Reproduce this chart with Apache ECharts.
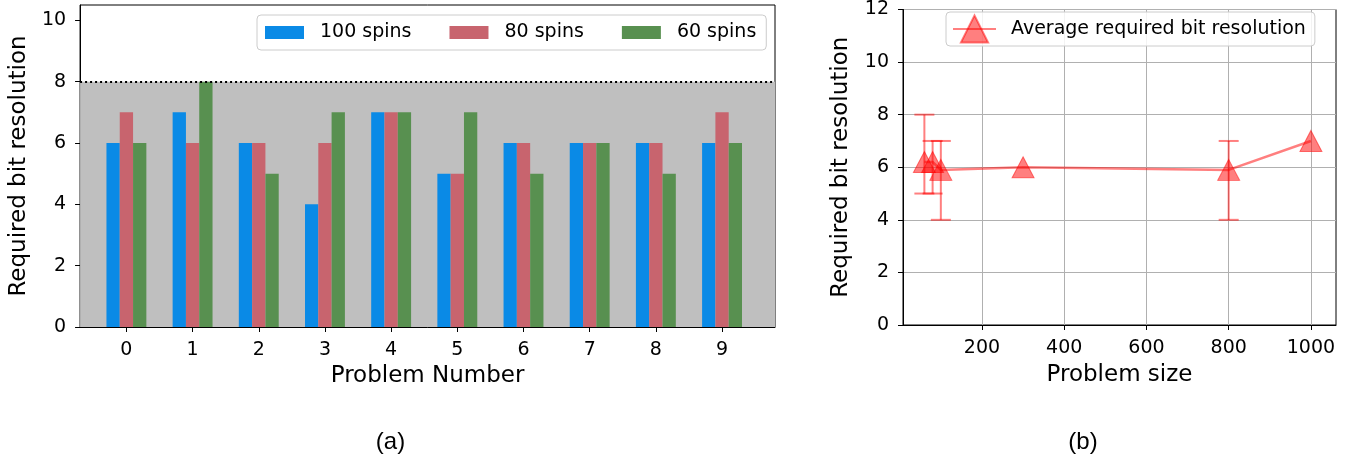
<!DOCTYPE html>
<html>
<head>
<meta charset="utf-8">
<script src="https://cdn.jsdelivr.net/npm/echarts@6/dist/echarts.min.js"></script>
<style>
html,body{margin:0;padding:0;background:#fff;}
#c{width:1361px;height:461px;}
</style>
</head>
<body>
<div id="c"></div>
<script>
// ---- Data (a) ----
var problems = [0,1,2,3,4,5,6,7,8,9];
var spins100 = [6,7,6,4,7,5,6,6,6,6];
var spins80  = [7,6,6,6,7,5,6,6,6,7];
var spins60  = [6,8,5,7,7,7,5,6,5,6];
var limitBits = 8;
var yTicksA = [0,2,4,6,8,10];

// ---- Data (b) ----
var problemSize = [60,80,100,300,800,1000];
var avgBits     = [6.2,6.2,5.9,6.0,5.9,7.0];
var errSize = [60,80,100,800];
var errLow  = [5,5,4,4];
var errHigh = [8,7,7,7];
var xTicksB = [200,400,600,800,1000];
var yTicksB = [0,2,4,6,8,10,12];

var FONT = 'DejaVu Sans';
var chart = echarts.init(document.getElementById('c'), null, {renderer:'canvas'});

function pairs(xs, ys){ return xs.map(function(x,i){ return [x, ys[i]]; }); }

var lineCol = 'rgba(255,0,0,0.5)';

var axisCommon = {
  axisLine:{show:true, onZero:false, lineStyle:{color:'#000', width:1}},
  nameTextStyle:{fontFamily:FONT, fontSize:23, color:'#000'}
};
function lab(margin, vals){
  return {show:true, margin:margin, color:'#000', fontFamily:FONT, fontSize:19, customValues: vals,
    formatter:function(v){ return String(v); }};
}
function tick(vals){
  return {show:true, length:5, lineStyle:{color:'#000', width:1}, customValues: vals};
}

var option = {
  animation:false,
  backgroundColor:'#fff',
  grid:[
    {left:77, top:5, width:698, height:322, show:true, borderColor:'#000', borderWidth:1, backgroundColor:'transparent'},
    {left:903, top:0, width:433, height:325, show:true, borderColor:'#000', borderWidth:1, backgroundColor:'transparent'}
  ],
  xAxis:[
    Object.assign({}, axisCommon, {
      gridIndex:0, type:'value', min:-0.7, max:9.8,
      name:'Problem Number', nameLocation:'middle', nameGap:38,
      axisTick: tick(problems),
      axisLabel: lab(14, problems),
      splitLine:{show:false}
    }),
    Object.assign({}, axisCommon, {
      gridIndex:1, type:'value', min:8, max:1061,
      name:'Problem size', nameLocation:'middle', nameGap:39,
      axisTick: tick(xTicksB),
      axisLabel: lab(14, xTicksB),
      splitLine:{show:true, lineStyle:{color:'#b0b0b0', width:1}}
    })
  ],
  yAxis:[
    Object.assign({}, axisCommon, {
      gridIndex:0, type:'value', min:0, max:10.5,
      name:'Required bit resolution', nameLocation:'middle', nameGap:48,
      axisTick: tick(yTicksA),
      axisLabel: lab(14, yTicksA),
      splitLine:{show:false}
    }),
    Object.assign({}, axisCommon, {
      gridIndex:1, type:'value', min:0, max:12,
      name:'Required bit resolution', nameLocation:'middle', nameGap:50,
      axisTick: tick(yTicksB),
      axisLabel: lab(14, yTicksB),
      splitLine:{show:true, lineStyle:{color:'#b0b0b0', width:1}}
    })
  ],
  legend:[
    {
      data:['100 spins','80 spins','60 spins'],
      left:257, top:15, orient:'horizontal',
      itemWidth:39, itemHeight:13, itemGap:38,
      padding:[8,10,8,8],
      backgroundColor:'rgba(255,255,255,0.85)', borderColor:'#cccccc', borderWidth:1, borderRadius:4,
      textStyle:{fontFamily:FONT, fontSize:19, color:'#000', lineHeight:18, padding:[0,0,0,11]},
      icon:'rect'
    },
    {
      data:['Average required bit resolution'],
      left:946, top:12,
      itemWidth:43, itemHeight:34,
      padding:[0,9,0,6],
      backgroundColor:'rgba(255,255,255,0.85)', borderColor:'#cccccc', borderWidth:1, borderRadius:4,
      textStyle:{fontFamily:FONT, fontSize:19, color:'#000', lineHeight:34, padding:[0,0,0,10]}
    }
  ],
  series:[
    {
      name:'100 spins', type:'bar', xAxisIndex:0, yAxisIndex:0,
      data: pairs(problems, spins100), barWidth:13.3, barGap:'0%',
      itemStyle:{color:'#0a8ae6'}, z:2,
      markArea:{silent:true, z:1, itemStyle:{color:'#bfbfbf'}, data:[[{yAxis:0},{yAxis:limitBits}]]},
      markLine:{silent:true, symbol:'none', label:{show:false}, z:5,
        lineStyle:{color:'#000', width:2, type:[2,3]}, data:[{yAxis:limitBits}]}
    },
    {
      name:'80 spins', type:'bar', xAxisIndex:0, yAxisIndex:0,
      data: pairs(problems, spins80), barWidth:13.3, barGap:'0%',
      itemStyle:{color:'#c8646e'}, z:2
    },
    {
      name:'60 spins', type:'bar', xAxisIndex:0, yAxisIndex:0,
      data: pairs(problems, spins60), barWidth:13.3, barGap:'0%',
      itemStyle:{color:'#589050'}, z:2
    },
    {
      name:'Average required bit resolution', type:'line', xAxisIndex:1, yAxisIndex:1,
      data: pairs(problemSize, avgBits),
      symbol:'triangle', symbolSize:[22,21], showSymbol:true,
      lineStyle:{color:lineCol, width:2.5},
      itemStyle:{color:lineCol, borderColor:lineCol, borderWidth:1},
      z:3
    },
    {
      name:'err', type:'custom', xAxisIndex:1, yAxisIndex:1,
      data: errSize.map(function(x,i){ return [x, errLow[i], errHigh[i]]; }),
      encode:{x:0, y:[1,2]},
      renderItem:function(params, api){
        var x = api.value(0);
        var lo = api.coord([x, api.value(1)]);
        var hi = api.coord([x, api.value(2)]);
        var hw = 10;
        var st = {stroke:lineCol, lineWidth:2};
        return {type:'group', children:[
          {type:'line', shape:{x1:lo[0], y1:lo[1], x2:hi[0], y2:hi[1]}, style:st},
          {type:'line', shape:{x1:lo[0]-hw, y1:lo[1], x2:lo[0]+hw, y2:lo[1]}, style:st},
          {type:'line', shape:{x1:hi[0]-hw, y1:hi[1], x2:hi[0]+hw, y2:hi[1]}, style:st}
        ]};
      },
      z:3
    }
  ],
  graphic:[
    {type:'text', x:390.5, y:442, style:{text:'(a)', font:'24px "Liberation Sans"', fill:'#000', align:'center', verticalAlign:'middle'}},
    {type:'text', x:1083, y:442, style:{text:'(b)', font:'24px "Liberation Sans"', fill:'#000', align:'center', verticalAlign:'middle'}}
  ]
};
chart.setOption(option);
</script>
</body>
</html>
